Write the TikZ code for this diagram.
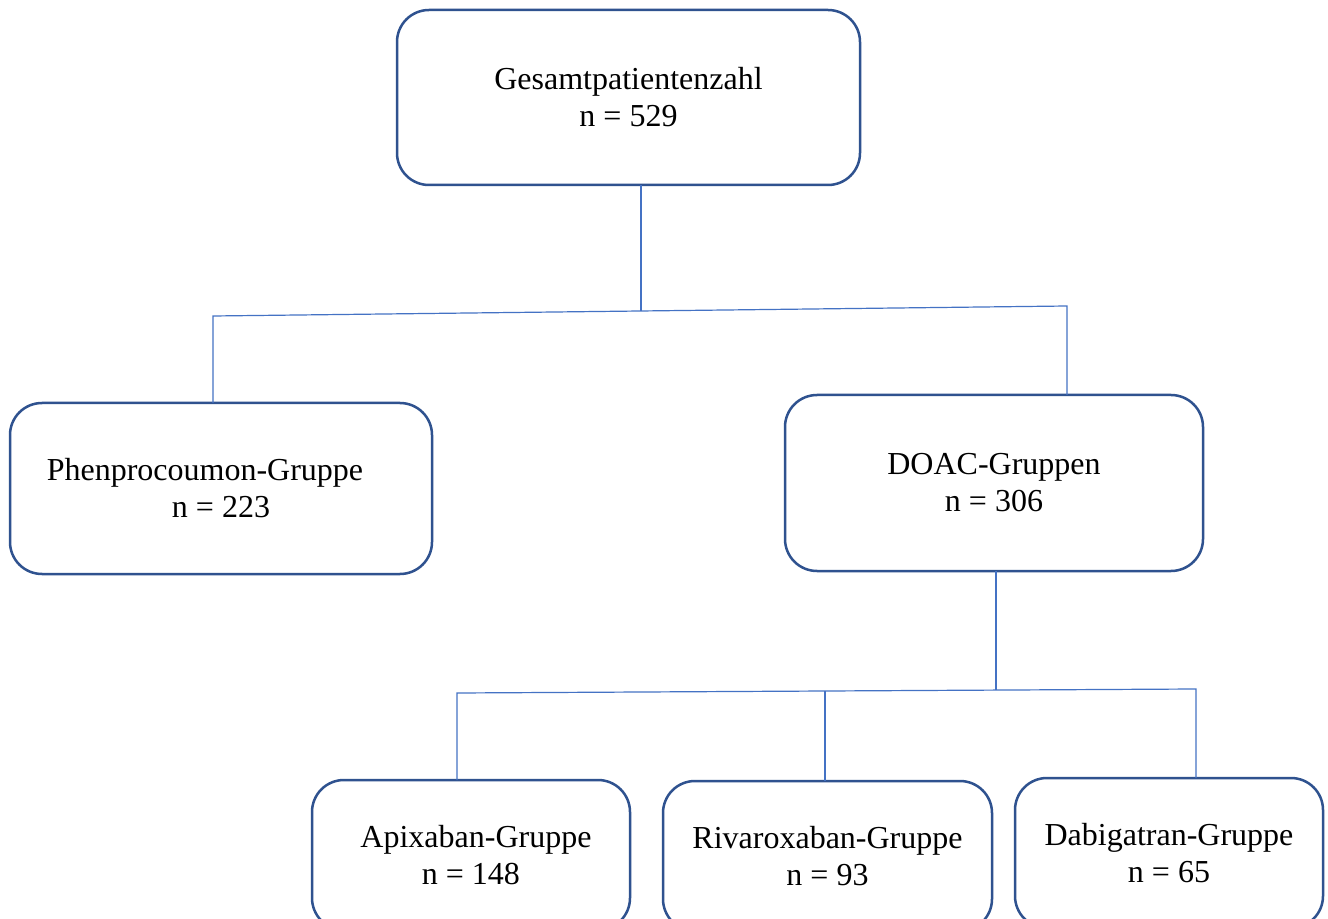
\documentclass[tikz,border=0pt]{standalone}
\usepackage{fontspec}
\setmainfont{Liberation Serif}
\definecolor{boxblue}{HTML}{2F528F}
\definecolor{linkblue}{HTML}{4472C4}
\begin{document}
\begin{tikzpicture}[x=0.5pt,y=-0.5pt,
  box/.style={draw=boxblue, line width=1.25pt, rounded corners=16pt, fill=white,
    inner sep=0pt, outer sep=0pt, align=center,
    font=\fontsize{16}{18.5}\selectfont},
  link/.style={draw=linkblue, line width=0.6pt}]
\clip (0,0) rectangle (1328,919);
\fill[white] (0,0) rectangle (1328,919);
% boxes
\node[box, minimum width=231.5pt, minimum height=87.5pt] (top) at (628.5,97.5)
  {Gesamtpatientenzahl\\n = 529};
\node[box, minimum width=211pt, minimum height=85.5pt] (phen) at (221,488.5)
  {Phenprocoumon-Gruppe\hspace*{16pt}\\n = 223};
\node[box, minimum width=209pt, minimum height=88pt] (doac) at (994,483)
  {DOAC-Gruppen\\n = 306};
\node[box, minimum width=159pt, minimum height=75pt] (apix) at (471,855)
  {\hspace*{5pt}Apixaban-Gruppe\\n = 148};
\node[box, minimum width=164.5pt, minimum height=75pt] (riva) at (827.5,856)
  {Rivaroxaban-Gruppe\\n = 93};
\node[box, minimum width=154pt, minimum height=75pt] (dabi) at (1169,853)
  {Dabigatran-Gruppe\\n = 65};
% junction coordinates
\coordinate (hl) at (213,316);
\coordinate (hr) at (1067,306);
\coordinate (j1) at (641,311);
\coordinate (gl) at (457,693);
\coordinate (gr) at (1196,689);
\coordinate (j2) at (996,690.1);
\coordinate (gm) at (825,691);
% connectors
\draw[link] (top.south -| j1) -- (j1);
\draw[link] (phen.north -| hl) -- (hl) -- (hr) -- (doac.north -| hr);
\draw[link] (doac.south -| j2) -- (j2);
\draw[link] (apix.north -| gl) -- (gl) -- (gr) -- (dabi.north -| gr);
\draw[link] (gm) -- (riva.north -| gm);
\end{tikzpicture}
\end{document}
